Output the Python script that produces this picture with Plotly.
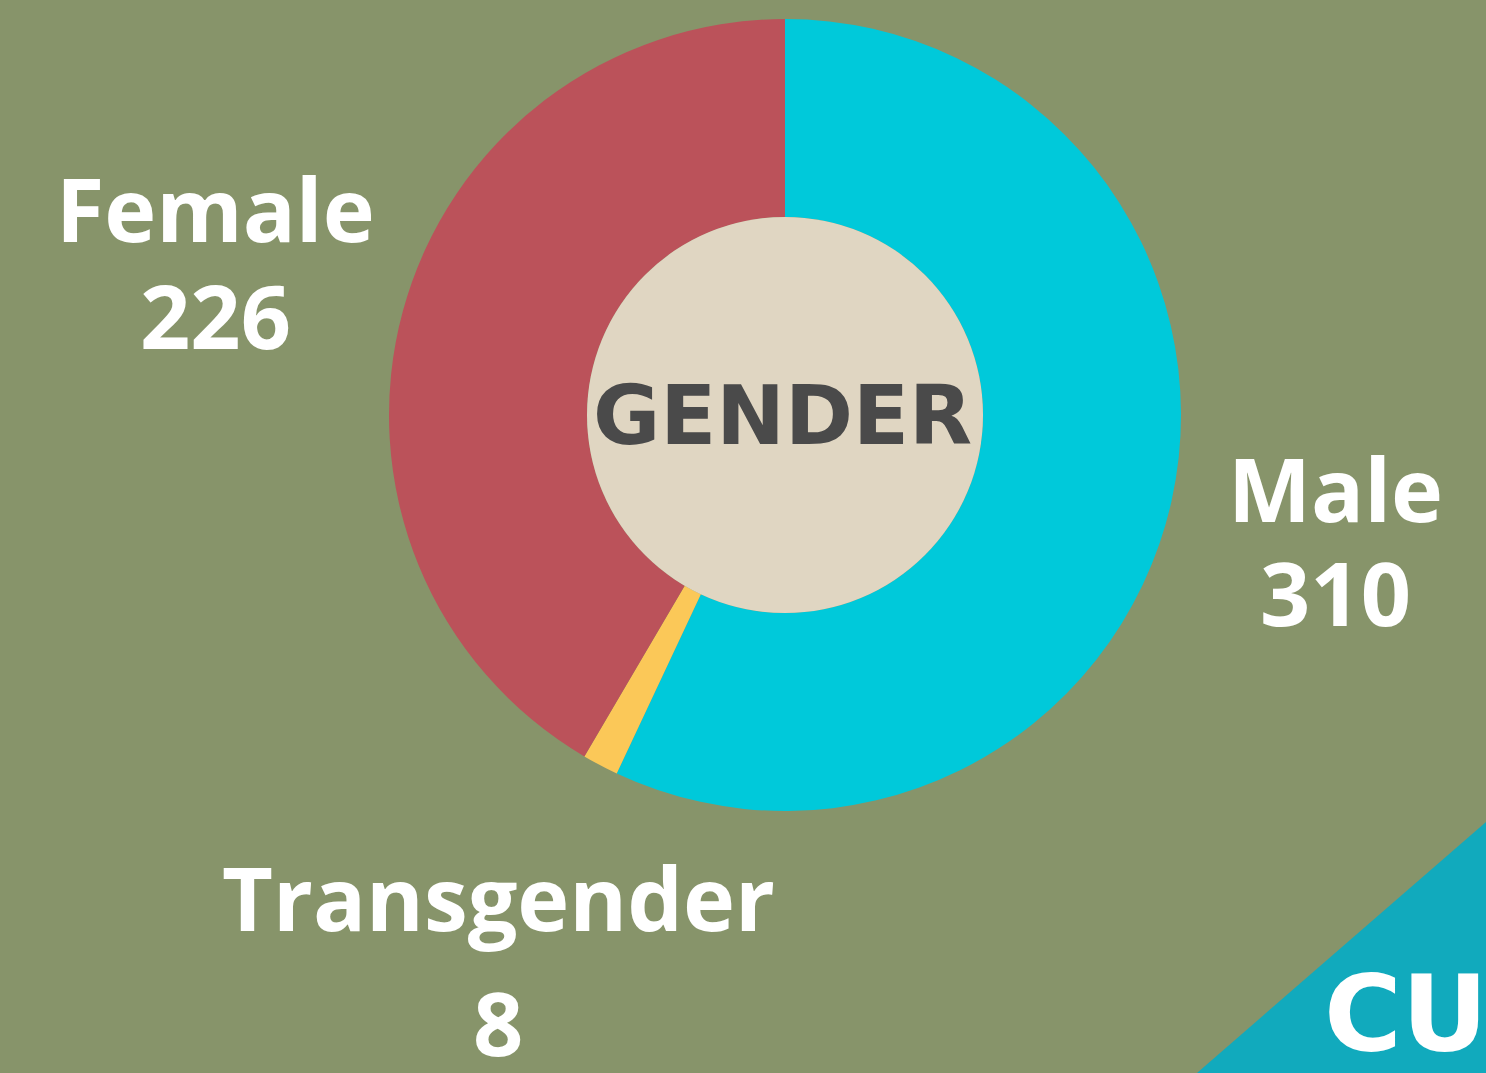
import plotly.graph_objects as go

categories = ["Male", "Transgender", "Female"]
values = [310, 8, 226]
colors = ["#00C9DA", "#FBC858", "#BB525A"]
center_title = "GENDER"

W, H = 1486, 1073
cx, cy, R = 785, 415, 396

def px(x):
    return x / W

def py(y):
    return 1 - y / H

fig = go.Figure()
fig.add_trace(go.Pie(
    labels=categories, values=values, sort=False, direction="clockwise", rotation=0,
    hole=0.5, marker=dict(colors=colors, line=dict(width=0)),
    textinfo="none", hoverinfo="label+value", showlegend=False,
    domain=dict(x=[px(cx - R), px(cx + R)], y=[py(cy + R), py(cy - R)]),
))

# inner beige disc
r_in = 198
fig.add_shape(type="circle", xref="paper", yref="paper",
              x0=px(cx - r_in), x1=px(cx + r_in), y0=py(cy + r_in), y1=py(cy - r_in),
              fillcolor="#E0D6C2", line=dict(width=0), layer="above")

# corner triangle
fig.add_shape(type="path", xref="paper", yref="paper",
              path=f"M {px(1197)} 0 L 1 {py(822)} L 1 0 Z",
              fillcolor="#11AABD", line=dict(width=0), layer="above")

font_lbl = dict(family="Open Sans", size=88, color="white", weight="bold")
label_pos = {
    "Female": (215, 208, 315),
    "Male": (1335, 488, 592),
    "Transgender": (498, 897, 1022),
}
for cat, val in zip(categories, values):
    x, y1, y2 = label_pos[cat]
    fig.add_annotation(x=px(x), y=py(y1), xref="paper", yref="paper", text=cat,
                       showarrow=False, font=font_lbl, xanchor="center", yanchor="middle")
    fig.add_annotation(x=px(x), y=py(y2), xref="paper", yref="paper", text=str(val),
                       showarrow=False, font=font_lbl, xanchor="center", yanchor="middle")

fig.add_annotation(x=px(cx - 3), y=py(cy), xref="paper", yref="paper", text=center_title,
                   showarrow=False, xanchor="center", yanchor="middle",
                   font=dict(family="DejaVu Sans", size=82, color="#4A4A4A", weight="bold"))

fig.add_annotation(x=px(1322), y=py(1014), xref="paper", yref="paper", text="CU",
                   showarrow=False, xanchor="left", yanchor="middle",
                   font=dict(family="DejaVu Sans", size=106, color="white", weight="bold"))

fig.update_layout(width=W, height=H, margin=dict(l=0, r=0, t=0, b=0),
                  paper_bgcolor="#87946A", plot_bgcolor="#87946A")
fig.write_html("out.html", config={"displayModeBar": False},
               post_script="document.body.style.margin='0';document.body.style.overflow='hidden';")
